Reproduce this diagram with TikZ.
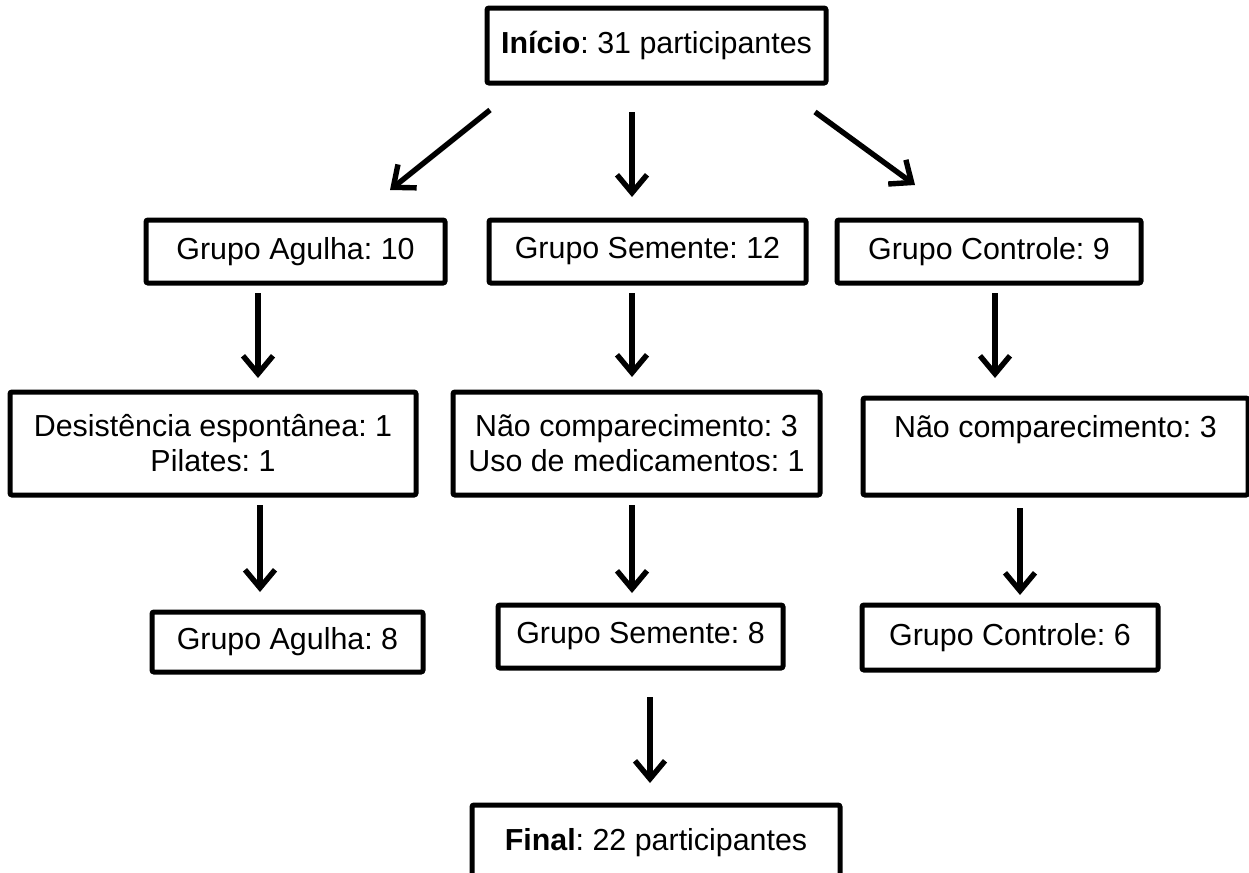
\documentclass[tikz,border=0pt]{standalone}
\usepackage{fontspec}
\setmainfont{Liberation Sans}
\frenchspacing
\usetikzlibrary{arrows.meta}
\begin{document}
\begin{tikzpicture}[x=0.5pt,y=-0.5pt,
  box/.style={draw=black,line width=2.5pt,rounded corners=1pt,inner sep=0pt,
    align=center,font=\fontsize{15.2pt}{17.5pt}\selectfont,text=black},
  arr/.style={line width=2.7pt,-{Straight Barb[length=9pt,width=15pt]}}]
\clip (0,0) rectangle (1249,873);
\fill[white] (0,0) rectangle (1249,873);
% boxes
\node[box,minimum width=169.5pt,minimum height=37.5pt] (inicio) at (656.5,45.5) {\textbf{Início}: 31 participantes};
\node[box,minimum width=149.5pt,minimum height=31.5pt] (ag10) at (295.5,251.5) {Grupo Agulha: 10};
\node[box,minimum width=158.5pt,minimum height=31.5pt] (se12) at (647.5,251.5) {Grupo Semente: 12};
\node[box,minimum width=152pt,minimum height=31.5pt] (co9) at (989,251.5) {Grupo Controle: 9};
\node[box,minimum width=203pt,minimum height=51.5pt] (desist) at (213,443.5) {Desistência espontânea: 1\\Pilates: 1};
\node[box,minimum width=183.5pt,minimum height=51.5pt] (naouso) at (636.5,443.5) {Não comparecimento: 3\\Uso de medicamentos: 1};
\node[box,minimum width=192.5pt,minimum height=48.5pt] (nao3) at (1055.5,446.5) {Não comparecimento: 3\\[3pt]\mbox{}};
\node[box,minimum width=135.5pt,minimum height=30pt] (ag8) at (287.5,642) {Grupo Agulha: 8};
\node[box,minimum width=142.5pt,minimum height=31.5pt] (se8) at (640.5,636.5) {Grupo Semente: 8};
\node[box,minimum width=148pt,minimum height=32.5pt] (co6) at (1010,637.5) {Grupo Controle: 6};
\node[box,minimum width=184pt,minimum height=37.5pt] (final) at (656,842.5) {\textbf{Final}: 22 participantes};
% arrow end points
\coordinate (a1s) at (490,110); \coordinate (a1e) at (390,190);
\coordinate (a2s) at (632,112); \coordinate (a2e) at (632,197);
\coordinate (a3s) at (815,112); \coordinate (a3e) at (915,185);
\coordinate (a4s) at (258,293); \coordinate (a4e) at (258,378);
\coordinate (a5s) at (632,293); \coordinate (a5e) at (632,377);
\coordinate (a6s) at (995,293); \coordinate (a6e) at (995,378);
\coordinate (a7s) at (260,505); \coordinate (a7e) at (260,592);
\coordinate (a8s) at (632,505); \coordinate (a8e) at (632,593);
\coordinate (a9s) at (1020,508); \coordinate (a9e) at (1020,595);
\coordinate (a10s) at (650,697); \coordinate (a10e) at (650,783);
% arrows
\draw[arr] (a1s) -- (a1e);
\draw[arr] (a2s) -- (a2e);
\draw[arr] (a3s) -- (a3e);
\draw[arr] (a4s) -- (a4e);
\draw[arr] (a5s) -- (a5e);
\draw[arr] (a6s) -- (a6e);
\draw[arr] (a7s) -- (a7e);
\draw[arr] (a8s) -- (a8e);
\draw[arr] (a9s) -- (a9e);
\draw[arr] (a10s) -- (a10e);
\end{tikzpicture}
\end{document}
